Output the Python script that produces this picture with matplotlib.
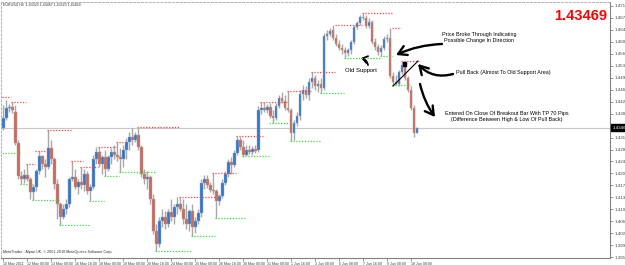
import matplotlib
matplotlib.use('Agg')
import matplotlib.pyplot as plt
import numpy as np

# EURUSD H4, 10 May - 10 Jun 2011
opens = [1.4347, 1.4377, 1.4407, 1.4410, 1.4395, 1.4302, 1.4200, 1.4191, 1.4203, 1.4191,
         1.4152, 1.4167, 1.4215, 1.4260, 1.4236, 1.4227, 1.4287, 1.4251, 1.4176, 1.4116,
         1.4077, 1.4101, 1.4116, 1.4191, 1.4197, 1.4167, 1.4182, 1.4173, 1.4206, 1.4155,
         1.4167, 1.4251, 1.4275, 1.4236, 1.4257, 1.4221, 1.4257, 1.4275, 1.4266, 1.4257,
         1.4251, 1.4281, 1.4305, 1.4320, 1.4311, 1.4326, 1.4290, 1.4206, 1.4191, 1.4197,
         1.4131, 1.4035, 1.3996, 1.4065, 1.4077, 1.4056, 1.4092, 1.4077, 1.4107, 1.4116,
         1.4101, 1.4071, 1.4056, 1.4095, 1.4047, 1.4065, 1.4089, 1.4179, 1.4191, 1.4173,
         1.4158, 1.4155, 1.4125, 1.4140, 1.4179, 1.4206, 1.4242, 1.4233, 1.4272, 1.4311,
         1.4290, 1.4266, 1.4281, 1.4275, 1.4284, 1.4281, 1.4401, 1.4407, 1.4401, 1.4410,
         1.4383, 1.4377, 1.4413, 1.4437, 1.4428, 1.4407, 1.4401, 1.4332, 1.4362, 1.4383,
         1.4449, 1.4461, 1.4446, 1.4485, 1.4497, 1.4473, 1.4479, 1.4467, 1.4623, 1.4629,
         1.4641, 1.4617, 1.4599, 1.4587, 1.4581, 1.4572, 1.4581, 1.4605, 1.4650, 1.4662,
         1.4680, 1.4677, 1.4653, 1.4665, 1.4605, 1.4590, 1.4575, 1.4587, 1.4614, 1.4617,
         1.4503, 1.4485, 1.4479, 1.4515, 1.4533, 1.4497, 1.4461, 1.4407, 1.4332]
highs = [1.4416, 1.4431, 1.4419, 1.4425, 1.4416, 1.4311, 1.4215, 1.4221, 1.4236, 1.4197,
         1.4176, 1.4221, 1.4278, 1.4266, 1.4251, 1.4341, 1.4311, 1.4257, 1.4191, 1.4122,
         1.4116, 1.4131, 1.4197, 1.4245, 1.4221, 1.4191, 1.4227, 1.4221, 1.4215, 1.4176,
         1.4266, 1.4290, 1.4290, 1.4266, 1.4281, 1.4266, 1.4287, 1.4296, 1.4305, 1.4287,
         1.4296, 1.4317, 1.4335, 1.4347, 1.4335, 1.4347, 1.4296, 1.4221, 1.4215, 1.4203,
         1.4146, 1.4056, 1.4077, 1.4101, 1.4095, 1.4101, 1.4131, 1.4116, 1.4137, 1.4137,
         1.4131, 1.4116, 1.4101, 1.4116, 1.4077, 1.4101, 1.4191, 1.4203, 1.4203, 1.4182,
         1.4209, 1.4161, 1.4146, 1.4191, 1.4215, 1.4251, 1.4257, 1.4281, 1.4323, 1.4320,
         1.4311, 1.4296, 1.4296, 1.4293, 1.4296, 1.4413, 1.4425, 1.4425, 1.4419, 1.4422,
         1.4401, 1.4422, 1.4446, 1.4455, 1.4446, 1.4458, 1.4407, 1.4371, 1.4395, 1.4461,
         1.4476, 1.4473, 1.4497, 1.4515, 1.4506, 1.4491, 1.4497, 1.4632, 1.4641, 1.4647,
         1.4656, 1.4629, 1.4611, 1.4599, 1.4590, 1.4587, 1.4611, 1.4656, 1.4668, 1.4686,
         1.4692, 1.4686, 1.4677, 1.4671, 1.4617, 1.4599, 1.4596, 1.4623, 1.4629, 1.4647,
         1.4515, 1.4506, 1.4521, 1.4548, 1.4542, 1.4503, 1.4473, 1.4416, 1.43487]
lows = [1.4341, 1.4371, 1.4395, 1.4392, 1.4296, 1.4191, 1.4176, 1.4179, 1.4185, 1.4131,
        1.4128, 1.4155, 1.4206, 1.4221, 1.4197, 1.4221, 1.4236, 1.4161, 1.4071, 1.4053,
        1.4071, 1.4086, 1.4107, 1.4185, 1.4161, 1.4146, 1.4161, 1.4155, 1.4146, 1.4125,
        1.4161, 1.4236, 1.4227, 1.4206, 1.4200, 1.4215, 1.4236, 1.4251, 1.4245, 1.4212,
        1.4227, 1.4251, 1.4281, 1.4296, 1.4305, 1.4281, 1.4197, 1.4176, 1.4161, 1.4116,
        1.4026, 1.3975, 1.3987, 1.4047, 1.4041, 1.4047, 1.4065, 1.4056, 1.4086, 1.4095,
        1.4056, 1.4041, 1.4035, 1.4020, 1.4029, 1.4056, 1.4077, 1.4161, 1.4164, 1.4152,
        1.4146, 1.4074, 1.4113, 1.4134, 1.4173, 1.4197, 1.4206, 1.4227, 1.4266, 1.4281,
        1.4257, 1.4260, 1.4269, 1.4266, 1.4272, 1.4275, 1.4389, 1.4395, 1.4392, 1.4377,
        1.4362, 1.4371, 1.4407, 1.4422, 1.4401, 1.4395, 1.4308, 1.4311, 1.4353, 1.4371,
        1.4431, 1.4437, 1.4431, 1.4467, 1.4461, 1.4455, 1.4452, 1.4461, 1.4611, 1.4623,
        1.4611, 1.4593, 1.4581, 1.4569, 1.4557, 1.4563, 1.4569, 1.4599, 1.4644, 1.4656,
        1.4671, 1.4647, 1.4647, 1.4599, 1.4581, 1.4566, 1.4563, 1.4581, 1.4605, 1.4497,
        1.4473, 1.4476, 1.4473, 1.4509, 1.4491, 1.4455, 1.4401, 1.4320, 1.4332]
closes = [1.4377, 1.4407, 1.4410, 1.4401, 1.4302, 1.4200, 1.4191, 1.4203, 1.4191, 1.4152,
          1.4167, 1.4215, 1.4260, 1.4236, 1.4227, 1.4287, 1.4251, 1.4176, 1.4116, 1.4077,
          1.4101, 1.4116, 1.4191, 1.4197, 1.4167, 1.4182, 1.4173, 1.4206, 1.4155, 1.4167,
          1.4251, 1.4275, 1.4236, 1.4257, 1.4221, 1.4257, 1.4275, 1.4266, 1.4257, 1.4251,
          1.4281, 1.4305, 1.4320, 1.4311, 1.4326, 1.4290, 1.4206, 1.4191, 1.4197, 1.4131,
          1.4035, 1.3996, 1.4065, 1.4077, 1.4056, 1.4092, 1.4077, 1.4107, 1.4116, 1.4101,
          1.4071, 1.4056, 1.4095, 1.4047, 1.4065, 1.4089, 1.4179, 1.4191, 1.4173, 1.4158,
          1.4155, 1.4125, 1.4140, 1.4179, 1.4206, 1.4242, 1.4233, 1.4272, 1.4311, 1.4290,
          1.4266, 1.4281, 1.4275, 1.4284, 1.4278, 1.4401, 1.4407, 1.4401, 1.4410, 1.4383,
          1.4377, 1.4413, 1.4437, 1.4428, 1.4407, 1.4401, 1.4332, 1.4362, 1.4383, 1.4449,
          1.4461, 1.4446, 1.4485, 1.4497, 1.4473, 1.4479, 1.4467, 1.4623, 1.4629, 1.4638,
          1.4617, 1.4599, 1.4587, 1.4581, 1.4572, 1.4581, 1.4605, 1.4650, 1.4662, 1.4680,
          1.4677, 1.4653, 1.4665, 1.4605, 1.4590, 1.4575, 1.4587, 1.4614, 1.4617, 1.4503,
          1.4485, 1.4479, 1.4515, 1.4536, 1.4497, 1.4461, 1.4407, 1.4332, 1.43469]
last_price = 1.43469

# fractal levels: resistance (red) and support (green), bar from / bar to / price
res_from = [0, 3, 8, 11, 15, 23, 26, 32, 38, 45, 59, 70, 78, 86, 95, 103, 111, 120, 130, 133]
res_to = [2, 7, 10, 14, 22, 26, 31, 37, 40, 58, 70, 77, 86, 94, 102, 110, 119, 129, 132, 138]
res_price = [1.4440, 1.4425, 1.4236, 1.4278, 1.4341, 1.4245, 1.4227, 1.4290, 1.4305, 1.4350,
             1.4137, 1.4209, 1.4323, 1.4425, 1.4458, 1.4515, 1.4656, 1.4692, 1.4647, 1.4548]
sup_from = [0, 6, 10, 19, 29, 34, 39, 51, 63, 71, 80, 89, 96, 106, 114, 126, 130]
sup_to = [5, 9, 18, 28, 33, 38, 50, 62, 70, 80, 88, 95, 105, 113, 125, 129, 135]
sup_price = [1.4272, 1.4176, 1.4128, 1.4053, 1.4125, 1.4200, 1.4212, 1.3975, 1.4020, 1.4074,
             1.4260, 1.4362, 1.4308, 1.4452, 1.4557, 1.4563, 1.4476]

date_bars = [0, 8, 16, 24, 32, 40, 48, 56, 64, 72, 80, 88, 96, 104, 112, 120, 128, 136]
date_labels = ['10 May 2011', '12 May 00:00', '13 May 08:00', '16 May 16:00', '18 May 00:00',
               '19 May 08:00', '20 May 16:00', '24 May 00:00', '25 May 08:00', '26 May 16:00',
               '30 May 00:00', '31 May 08:00', '1 Jun 16:00', '3 Jun 00:00', '6 Jun 08:00',
               '7 Jun 16:00', '9 Jun 00:00', '10 Jun 08:00']
price_ticks = [1.47130, 1.46770, 1.46410, 1.46050, 1.45690, 1.45330, 1.44970, 1.44610,
               1.44250, 1.43890, 1.43170, 1.42810, 1.42450, 1.42090, 1.41730, 1.41370,
               1.41010, 1.40650, 1.40290, 1.39930, 1.39570]

W, H = 625, 265
BLUE = '#2f78d0'
RED = '#cd6a5c'
WICK = '#a8a8a8'

plt.rcParams['font.family'] = ['Liberation Sans', 'DejaVu Sans']

fig = plt.figure(figsize=(W / 100, H / 100), dpi=100)
ax = fig.add_axes([1 / W, 1 - 257.5 / H, 609 / W, 255.5 / H])
ax.set_xlim(-0.83, 202.2)
ax.set_ylim(1.3956, 1.4725)


def fpos(x, y):
    return (x / W, 1 - y / H)


# candles
x = np.arange(len(opens))
o = np.array(opens)
c = np.array(closes)
up = c >= o
ax.vlines(x, lows, highs, colors=WICK, lw=1.0, zorder=2)
ax.bar(x[up], np.maximum(c - o, 0.00008)[up], bottom=o[up], width=0.7,
       color=BLUE, edgecolor=WICK, lw=0.3, zorder=3)
ax.bar(x[~up], (o - c)[~up], bottom=c[~up], width=0.7,
       color=RED, edgecolor=WICK, lw=0.3, zorder=3)

# support / resistance dots
for a, b, p in zip(res_from, res_to, res_price):
    ax.hlines(p, a - 0.4, b + 0.4, colors='#ff4040', linestyles=(0, (1, 1.3)), lw=0.9, zorder=4)
for a, b, p in zip(sup_from, sup_to, sup_price):
    ax.hlines(p, a - 0.4, b + 0.4, colors='#30e030', linestyles=(0, (1, 1.3)), lw=0.9, zorder=4)

# bid line
ax.axhline(last_price, color='#c8c8c8', lw=0.8, zorder=1)

# axes look
ax.yaxis.tick_right()
ax.set_yticks(price_ticks)
ax.set_yticklabels(['%.5f' % p for p in price_ticks])
ax.set_xticks(date_bars)
ax.set_xticklabels(date_labels, ha='left')
ax.tick_params(axis='both', labelsize=2.6, length=2, width=0.5, color='#707070',
               labelcolor='#404040', pad=1)
ax.tick_params(axis='y', labelsize=3.2)
for s in ['top', 'left']:
    ax.spines[s].set_linestyle((0, (2, 2)))
    ax.spines[s].set_color('#b0b0b0')
    ax.spines[s].set_linewidth(0.7)
for s in ['right', 'bottom']:
    ax.spines[s].set_color('#808080')
    ax.spines[s].set_linewidth(0.8)

ax.annotate('%.5f' % last_price, xy=(1.0, last_price), xycoords=('axes fraction', 'data'),
            xytext=(2, 0), textcoords='offset points', fontsize=3.2, color='white',
            va='center', ha='left',
            bbox=dict(boxstyle='square,pad=0.3', fc='black', ec='black'))

# header / footer
fig.text(*fpos(3, 5), 'EURUSD,H4  1.43320 1.43487 1.43320 1.43469', fontsize=2.6,
         color='#303030', va='center', ha='left')
fig.text(*fpos(3, 252), 'MetaTrader - Alpari UK, \u00a9 2001-2010 MetaQuotes Software Corp.',
         fontsize=2.7, color='#303030', va='center', ha='left')
fig.text(*fpos(581, 16), '1.43469', fontsize=10.5, color='#ff0000', weight='bold',
         ha='center', va='center')

# chart drawings
ann = dict(fontsize=3.9, color='black', ha='center', va='center')
fig.text(*fpos(361, 71), 'Old Support', fontsize=4.3, color='black', ha='center', va='center')
fig.text(*fpos(479, 37.5), 'Price Broke Through Indicating\nPossible Change In Direction',
         linespacing=1.25, **ann)
fig.text(*fpos(503, 73), 'Pull Back (Almost To Old Support Area)', **ann)
fig.text(*fpos(507, 116.5), 'Entered On Close Of Breakout Bar With TP 70 Pips\n'
         '(Difference Between High & Low Of Pull Back)', linespacing=1.25, **ann)

arrow = dict(arrowstyle='->,head_length=0.6,head_width=0.35', color='black', lw=1.7,
             shrinkA=0, shrinkB=0)
ax.annotate('', xy=fpos(396, 55), xycoords='figure fraction', xytext=fpos(442, 44),
            textcoords='figure fraction', arrowprops=dict(connectionstyle='arc3,rad=0.1', **arrow))
ax.annotate('', xy=fpos(418, 64), xycoords='figure fraction', xytext=fpos(453, 74),
            textcoords='figure fraction', arrowprops=dict(connectionstyle='arc3,rad=-0.3', **arrow))
ax.annotate('', xy=fpos(435, 117), xycoords='figure fraction', xytext=fpos(420, 84),
            textcoords='figure fraction', arrowprops=dict(connectionstyle='arc3,rad=0.1', **arrow))
ax.annotate('', xy=fpos(361, 58), xycoords='figure fraction', xytext=fpos(368, 65),
            textcoords='figure fraction',
            arrowprops=dict(arrowstyle='->,head_length=0.35,head_width=0.25', color='black',
                            lw=1.3, connectionstyle='arc3,rad=0.3', shrinkA=0, shrinkB=0))
# pull back trend line and marker
fig.add_artist(plt.Line2D([393 / W, 418 / W], [1 - 86 / H, 1 - 61 / H], color='black', lw=0.8))
fig.add_artist(plt.Rectangle(fpos(402.5, 66), 3.5 / W, 3.5 / H, color='black'))

fig.savefig('out.png', dpi=100, facecolor='white')
